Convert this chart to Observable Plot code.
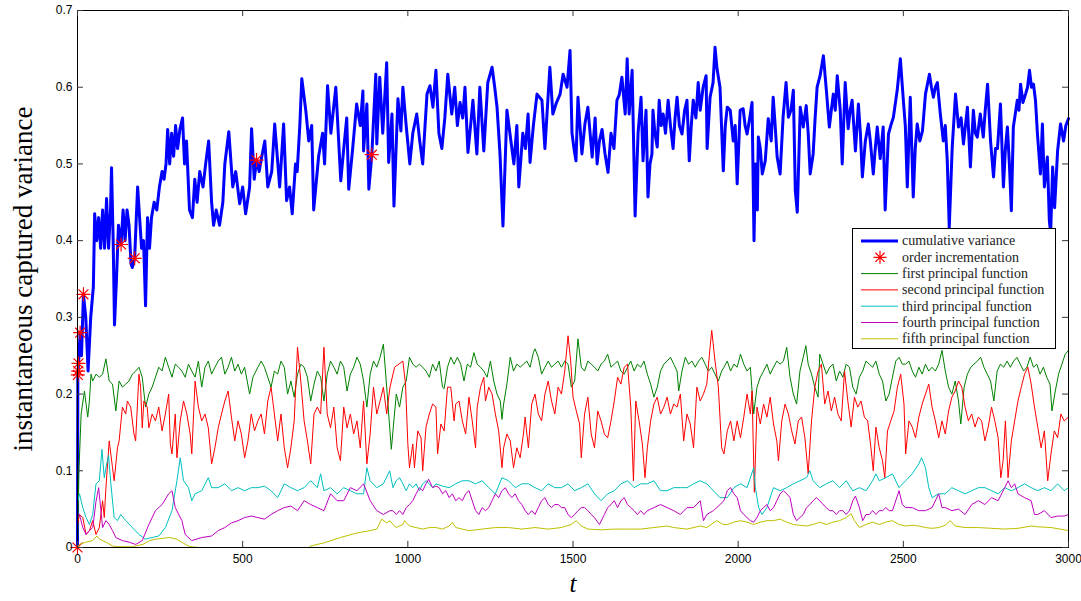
<!DOCTYPE html>
<html><head><meta charset="utf-8">
<script src="https://cdn.jsdelivr.net/npm/d3@7"></script>
<script src="https://cdn.jsdelivr.net/npm/@observablehq/plot@0.6"></script>
<style>
body{margin:0;background:#fff}
#wrap{position:relative;width:1081px;height:601px}
#legend{position:absolute;left:852px;top:228px;width:202px;height:119px;border:1px solid #000;background:#fff}
</style>
</head><body><div id="wrap"></div>
<script>
// ---- data: [t, value] ----
const cumulative = [[0,0],[1,0.225],[2,0.23],[3,0.24],[8,0.28],[12,0.25],[18,0.33],[25,0.30],[32,0.23],[40,0.30],[48,0.34],[52,0.435],[58,0.40],[64,0.43],[70,0.39],[76,0.44],[82,0.39],[88,0.455],[94,0.39],[100,0.44],[103,0.495],[108,0.40],[112,0.29],[118,0.35],[124,0.42],[132,0.395],[138,0.44],[144,0.40],[150,0.44],[156,0.42],[162,0.37],[166,0.365],[173,0.377],[178,0.43],[182,0.47],[188,0.43],[194,0.39],[200,0.40],[206,0.315],[212,0.43],[218,0.39],[224,0.43],[232,0.45],[240,0.44],[248,0.47],[256,0.49],[262,0.48],[268,0.50],[273,0.545],[279,0.50],[285,0.54],[291,0.51],[297,0.55],[303,0.52],[310,0.545],[318,0.56],[324,0.50],[330,0.53],[339,0.44],[348,0.43],[355,0.48],[362,0.45],[370,0.49],[380,0.47],[388,0.50],[397,0.53],[406,0.45],[412,0.42],[420,0.44],[430,0.42],[440,0.45],[446,0.50],[458,0.542],[470,0.47],[479,0.49],[491,0.448],[500,0.47],[509,0.435],[521,0.47],[527,0.546],[535,0.48],[542,0.505],[550,0.49],[558,0.51],[567,0.53],[576,0.47],[588,0.49],[597,0.552],[612,0.47],[624,0.552],[633,0.452],[642,0.47],[650,0.435],[660,0.50],[665,0.49],[673,0.55],[679,0.611],[691,0.57],[700,0.53],[709,0.55],[715,0.44],[730,0.51],[742,0.54],[748,0.50],[757,0.602],[767,0.54],[782,0.60],[797,0.478],[806,0.52],[815,0.56],[821,0.467],[833,0.52],[845,0.578],[856,0.55],[864,0.595],[866,0.517],[876,0.578],[882,0.467],[891,0.512],[903,0.617],[906,0.526],[915,0.613],[924,0.54],[936,0.632],[942,0.502],[952,0.565],[958,0.445],[970,0.585],[979,0.543],[985,0.60],[995,0.55],[1006,0.50],[1015,0.54],[1027,0.565],[1036,0.53],[1045,0.50],[1058,0.591],[1067,0.602],[1076,0.574],[1085,0.622],[1094,0.54],[1103,0.52],[1112,0.56],[1121,0.617],[1133,0.565],[1142,0.60],[1150,0.55],[1158,0.58],[1166,0.56],[1173,0.60],[1182,0.515],[1190,0.55],[1197,0.583],[1209,0.513],[1218,0.60],[1230,0.517],[1242,0.606],[1255,0.626],[1263,0.60],[1270,0.574],[1279,0.513],[1288,0.419],[1300,0.57],[1309,0.54],[1321,0.50],[1330,0.55],[1336,0.47],[1348,0.54],[1356,0.52],[1364,0.565],[1370,0.502],[1380,0.55],[1391,0.591],[1406,0.583],[1415,0.52],[1422,0.57],[1430,0.626],[1439,0.565],[1450,0.58],[1461,0.591],[1470,0.617],[1482,0.60],[1491,0.648],[1497,0.54],[1503,0.52],[1509,0.504],[1515,0.587],[1521,0.55],[1527,0.513],[1536,0.552],[1545,0.574],[1558,0.509],[1567,0.56],[1573,0.50],[1580,0.53],[1588,0.545],[1597,0.513],[1606,0.489],[1615,0.54],[1624,0.52],[1633,0.583],[1640,0.59],[1648,0.613],[1658,0.565],[1664,0.637],[1670,0.565],[1679,0.622],[1688,0.432],[1697,0.54],[1706,0.587],[1712,0.504],[1721,0.57],[1727,0.457],[1733,0.50],[1739,0.513],[1742,0.57],[1748,0.54],[1755,0.522],[1761,0.583],[1767,0.55],[1773,0.565],[1780,0.54],[1788,0.583],[1795,0.55],[1803,0.52],[1809,0.56],[1815,0.587],[1822,0.55],[1830,0.539],[1838,0.57],[1845,0.583],[1852,0.504],[1858,0.55],[1864,0.583],[1872,0.56],[1879,0.606],[1885,0.57],[1894,0.60],[1903,0.615],[1906,0.52],[1915,0.587],[1924,0.606],[1930,0.652],[1936,0.624],[1945,0.60],[1955,0.491],[1961,0.55],[1967,0.574],[1976,0.57],[1985,0.53],[1991,0.55],[1997,0.474],[2006,0.57],[2015,0.572],[2021,0.55],[2027,0.539],[2035,0.56],[2042,0.58],[2048,0.40],[2052,0.50],[2058,0.44],[2061,0.535],[2067,0.52],[2073,0.487],[2082,0.504],[2091,0.559],[2100,0.53],[2106,0.587],[2112,0.55],[2118,0.509],[2127,0.487],[2136,0.561],[2145,0.606],[2152,0.561],[2160,0.57],[2167,0.596],[2173,0.465],[2179,0.437],[2188,0.574],[2197,0.548],[2206,0.576],[2212,0.54],[2218,0.487],[2227,0.513],[2233,0.56],[2239,0.60],[2248,0.615],[2258,0.641],[2267,0.596],[2276,0.548],[2282,0.57],[2288,0.591],[2294,0.57],[2300,0.615],[2309,0.570],[2315,0.50],[2324,0.606],[2333,0.546],[2339,0.57],[2345,0.583],[2355,0.517],[2364,0.578],[2370,0.54],[2376,0.483],[2385,0.53],[2394,0.552],[2400,0.53],[2409,0.487],[2415,0.52],[2421,0.548],[2430,0.507],[2439,0.548],[2445,0.44],[2455,0.539],[2462,0.55],[2470,0.561],[2482,0.598],[2491,0.637],[2500,0.583],[2506,0.55],[2512,0.47],[2521,0.587],[2530,0.457],[2536,0.52],[2542,0.552],[2550,0.53],[2558,0.543],[2567,0.591],[2579,0.617],[2585,0.60],[2591,0.587],[2597,0.60],[2603,0.606],[2612,0.565],[2621,0.53],[2627,0.55],[2633,0.504],[2639,0.417],[2648,0.522],[2658,0.591],[2667,0.548],[2675,0.56],[2682,0.526],[2688,0.55],[2694,0.574],[2703,0.496],[2712,0.570],[2718,0.54],[2724,0.535],[2733,0.565],[2742,0.535],[2748,0.57],[2755,0.604],[2764,0.530],[2773,0.483],[2779,0.52],[2785,0.52],[2794,0.578],[2803,0.47],[2809,0.52],[2815,0.548],[2821,0.50],[2827,0.439],[2833,0.548],[2845,0.583],[2850,0.57],[2855,0.604],[2862,0.58],[2870,0.591],[2876,0.60],[2882,0.622],[2888,0.60],[2894,0.604],[2900,0.583],[2906,0.539],[2915,0.487],[2921,0.552],[2927,0.470],[2936,0.509],[2942,0.426],[2946,0.41],[2952,0.496],[2958,0.443],[2967,0.517],[2976,0.552],[2985,0.530],[2992,0.55],[3000,0.559]];

const orderIncrements = [[0,0],[1,0.225],[2,0.23],[3,0.24],[8,0.28],[18,0.33],[132,0.395],[173,0.377],[542,0.505],[891,0.512]];

const first = [[0,0],[4,0.096],[11,0.174],[21,0.204],[31,0.170],[36,0.191],[41,0.226],[46,0.217],[56,0.226],[66,0.222],[76,0.226],[86,0.246],[96,0.217],[106,0.213],[116,0.178],[126,0.217],[136,0.209],[146,0.213],[156,0.217],[166,0.226],[176,0.230],[186,0.235],[196,0.222],[206,0.183],[216,0.200],[226,0.209],[236,0.222],[246,0.235],[256,0.230],[266,0.248],[276,0.235],[286,0.222],[296,0.239],[306,0.235],[316,0.230],[326,0.222],[336,0.239],[346,0.230],[356,0.222],[366,0.243],[376,0.209],[386,0.235],[396,0.243],[406,0.226],[416,0.235],[426,0.243],[436,0.248],[446,0.226],[456,0.235],[466,0.248],[476,0.230],[486,0.239],[496,0.226],[506,0.235],[521,0.200],[531,0.222],[546,0.235],[556,0.243],[566,0.235],[576,0.222],[586,0.209],[596,0.230],[606,0.226],[616,0.243],[626,0.235],[636,0.200],[646,0.217],[656,0.196],[666,0.226],[676,0.239],[686,0.235],[696,0.222],[706,0.191],[716,0.213],[726,0.230],[736,0.222],[746,0.191],[756,0.226],[766,0.243],[776,0.235],[786,0.226],[796,0.243],[806,0.235],[816,0.204],[826,0.226],[836,0.235],[846,0.248],[856,0.239],[866,0.217],[876,0.183],[886,0.226],[896,0.243],[906,0.235],[916,0.248],[926,0.265],[936,0.209],[950,0.128],[965,0.200],[975,0.183],[985,0.209],[995,0.217],[1005,0.248],[1015,0.239],[1025,0.235],[1035,0.239],[1045,0.235],[1055,0.230],[1065,0.222],[1075,0.239],[1085,0.230],[1095,0.243],[1105,0.209],[1110,0.207],[1120,0.235],[1130,0.248],[1140,0.239],[1150,0.248],[1160,0.239],[1170,0.217],[1180,0.239],[1190,0.235],[1200,0.254],[1210,0.239],[1220,0.235],[1230,0.230],[1240,0.222],[1250,0.243],[1260,0.217],[1270,0.200],[1280,0.191],[1285,0.167],[1290,0.187],[1300,0.213],[1310,0.248],[1320,0.230],[1330,0.239],[1340,0.235],[1350,0.239],[1360,0.243],[1370,0.235],[1380,0.254],[1385,0.259],[1395,0.248],[1405,0.226],[1415,0.235],[1425,0.243],[1435,0.235],[1445,0.239],[1455,0.243],[1465,0.235],[1475,0.243],[1485,0.239],[1495,0.209],[1505,0.217],[1515,0.272],[1525,0.235],[1535,0.230],[1545,0.243],[1555,0.239],[1565,0.235],[1575,0.230],[1585,0.239],[1595,0.243],[1605,0.252],[1615,0.235],[1625,0.239],[1635,0.243],[1645,0.230],[1655,0.226],[1665,0.235],[1675,0.243],[1685,0.230],[1695,0.239],[1705,0.235],[1715,0.243],[1725,0.226],[1735,0.213],[1745,0.196],[1755,0.209],[1765,0.230],[1775,0.239],[1785,0.243],[1795,0.248],[1805,0.239],[1815,0.230],[1820,0.204],[1830,0.230],[1840,0.248],[1850,0.239],[1860,0.243],[1870,0.235],[1880,0.243],[1890,0.248],[1900,0.239],[1910,0.230],[1920,0.235],[1930,0.226],[1940,0.217],[1950,0.230],[1957,0.235],[1967,0.243],[1977,0.230],[1987,0.239],[1997,0.235],[2007,0.252],[2017,0.239],[2027,0.230],[2037,0.235],[2047,0.174],[2057,0.209],[2067,0.222],[2077,0.230],[2087,0.239],[2097,0.226],[2107,0.235],[2117,0.243],[2127,0.239],[2137,0.243],[2147,0.261],[2157,0.222],[2167,0.200],[2177,0.187],[2187,0.230],[2197,0.248],[2205,0.263],[2212,0.239],[2222,0.226],[2232,0.209],[2242,0.196],[2247,0.252],[2257,0.239],[2267,0.226],[2277,0.235],[2287,0.239],[2297,0.217],[2307,0.230],[2317,0.222],[2327,0.239],[2337,0.235],[2347,0.209],[2357,0.200],[2367,0.222],[2377,0.230],[2387,0.243],[2397,0.239],[2407,0.235],[2417,0.243],[2427,0.226],[2437,0.217],[2447,0.191],[2457,0.200],[2467,0.222],[2477,0.243],[2487,0.248],[2497,0.239],[2507,0.239],[2517,0.243],[2527,0.230],[2537,0.222],[2547,0.235],[2557,0.226],[2567,0.239],[2577,0.230],[2587,0.235],[2597,0.230],[2607,0.239],[2617,0.257],[2627,0.230],[2637,0.209],[2647,0.200],[2657,0.217],[2667,0.191],[2674,0.161],[2684,0.209],[2694,0.226],[2704,0.235],[2714,0.239],[2724,0.243],[2734,0.248],[2744,0.235],[2754,0.226],[2764,0.217],[2774,0.191],[2784,0.230],[2794,0.239],[2804,0.235],[2814,0.243],[2824,0.235],[2834,0.243],[2844,0.248],[2854,0.239],[2864,0.230],[2874,0.235],[2884,0.248],[2894,0.235],[2904,0.239],[2914,0.226],[2924,0.235],[2934,0.222],[2944,0.213],[2950,0.178],[2960,0.204],[2970,0.226],[2980,0.239],[2990,0.252],[3000,0.257]];

const second = [[0,0.03],[6,0.043],[16,0.039],[26,0.017],[36,0.022],[46,0.035],[56,0.017],[66,0.026],[76,0.061],[81,0.039],[86,0.078],[96,0.139],[106,0.104],[111,0.087],[121,0.130],[126,0.139],[136,0.183],[146,0.174],[151,0.191],[161,0.183],[171,0.148],[176,0.139],[186,0.226],[191,0.209],[196,0.156],[201,0.191],[211,0.183],[216,0.156],[226,0.174],[236,0.165],[246,0.183],[256,0.152],[266,0.174],[276,0.200],[281,0.135],[286,0.122],[296,0.174],[301,0.117],[311,0.165],[321,0.191],[331,0.174],[341,0.148],[346,0.122],[356,0.217],[366,0.183],[376,0.165],[386,0.174],[396,0.156],[406,0.109],[416,0.130],[426,0.156],[436,0.174],[446,0.191],[456,0.204],[466,0.170],[476,0.139],[486,0.165],[496,0.148],[506,0.117],[516,0.139],[526,0.174],[536,0.152],[546,0.165],[556,0.174],[566,0.148],[576,0.191],[586,0.209],[596,0.174],[606,0.139],[616,0.174],[626,0.130],[636,0.104],[646,0.130],[656,0.165],[666,0.261],[676,0.217],[686,0.165],[696,0.139],[706,0.109],[716,0.174],[726,0.183],[736,0.174],[746,0.261],[756,0.174],[766,0.156],[776,0.183],[786,0.130],[796,0.113],[806,0.183],[816,0.156],[826,0.174],[836,0.148],[846,0.165],[856,0.130],[866,0.191],[876,0.109],[886,0.148],[896,0.209],[906,0.174],[916,0.191],[926,0.209],[936,0.174],[946,0.209],[960,0.235],[985,0.243],[993,0.213],[1000,0.135],[1005,0.104],[1015,0.135],[1020,0.104],[1030,0.152],[1040,0.143],[1045,0.100],[1055,0.157],[1065,0.174],[1075,0.187],[1085,0.183],[1090,0.122],[1100,0.161],[1110,0.152],[1120,0.209],[1130,0.209],[1140,0.165],[1145,0.187],[1155,0.191],[1165,0.165],[1175,0.148],[1185,0.196],[1195,0.165],[1205,0.130],[1210,0.183],[1220,0.209],[1230,0.222],[1235,0.191],[1245,0.209],[1255,0.200],[1265,0.174],[1275,0.152],[1285,0.104],[1290,0.130],[1300,0.148],[1310,0.139],[1320,0.104],[1330,0.130],[1340,0.117],[1350,0.148],[1355,0.170],[1365,0.130],[1375,0.187],[1385,0.200],[1395,0.174],[1405,0.165],[1415,0.200],[1425,0.217],[1435,0.191],[1445,0.174],[1455,0.209],[1465,0.200],[1475,0.230],[1485,0.276],[1493,0.243],[1500,0.196],[1510,0.178],[1520,0.161],[1525,0.117],[1535,0.174],[1545,0.196],[1555,0.148],[1565,0.130],[1575,0.178],[1585,0.165],[1595,0.148],[1605,0.143],[1615,0.165],[1625,0.191],[1635,0.222],[1645,0.213],[1655,0.235],[1665,0.239],[1675,0.183],[1683,0.087],[1690,0.191],[1700,0.165],[1710,0.135],[1718,0.091],[1725,0.130],[1735,0.165],[1745,0.187],[1755,0.196],[1765,0.174],[1775,0.183],[1785,0.196],[1795,0.174],[1805,0.187],[1815,0.183],[1825,0.200],[1835,0.139],[1845,0.174],[1855,0.161],[1865,0.130],[1875,0.209],[1885,0.191],[1895,0.200],[1905,0.213],[1915,0.261],[1920,0.283],[1930,0.243],[1940,0.209],[1950,0.130],[1957,0.122],[1967,0.152],[1977,0.165],[1987,0.139],[1997,0.165],[2007,0.143],[2017,0.170],[2027,0.200],[2037,0.174],[2042,0.204],[2049,0.072],[2057,0.183],[2067,0.161],[2077,0.187],[2087,0.170],[2097,0.196],[2107,0.161],[2117,0.139],[2122,0.113],[2132,0.165],[2142,0.187],[2152,0.174],[2162,0.152],[2172,0.135],[2182,0.165],[2192,0.170],[2202,0.143],[2212,0.096],[2222,0.165],[2232,0.209],[2242,0.230],[2252,0.239],[2262,0.187],[2272,0.204],[2282,0.178],[2292,0.196],[2302,0.174],[2312,0.165],[2322,0.230],[2332,0.191],[2342,0.157],[2352,0.196],[2362,0.183],[2372,0.191],[2382,0.170],[2392,0.165],[2402,0.130],[2409,0.100],[2417,0.157],[2427,0.130],[2437,0.113],[2444,0.091],[2452,0.152],[2462,0.165],[2472,0.178],[2482,0.209],[2492,0.226],[2502,0.187],[2507,0.122],[2517,0.165],[2527,0.157],[2537,0.143],[2547,0.170],[2557,0.187],[2567,0.200],[2577,0.213],[2587,0.183],[2597,0.165],[2607,0.143],[2617,0.165],[2627,0.148],[2637,0.178],[2647,0.196],[2657,0.204],[2667,0.217],[2677,0.209],[2687,0.183],[2697,0.165],[2707,0.174],[2717,0.157],[2727,0.170],[2737,0.165],[2747,0.139],[2757,0.157],[2767,0.183],[2777,0.165],[2787,0.143],[2795,0.091],[2802,0.113],[2809,0.165],[2817,0.091],[2827,0.139],[2837,0.165],[2847,0.191],[2857,0.209],[2867,0.226],[2877,0.235],[2887,0.213],[2897,0.183],[2907,0.157],[2917,0.130],[2927,0.152],[2937,0.087],[2947,0.122],[2957,0.152],[2967,0.143],[2977,0.174],[2987,0.165],[3000,0.170]];

const third = [[0,0.074],[1,0.061],[6,0.070],[16,0.052],[26,0.039],[36,0.030],[46,0.043],[56,0.083],[66,0.087],[74,0.128],[81,0.091],[86,0.104],[94,0.120],[101,0.083],[111,0.039],[121,0.035],[131,0.043],[146,0.035],[166,0.026],[186,0.017],[206,0.011],[226,0.013],[246,0.015],[266,0.026],[286,0.048],[301,0.087],[311,0.117],[321,0.087],[336,0.078],[346,0.061],[356,0.070],[376,0.074],[396,0.091],[406,0.078],[426,0.078],[446,0.083],[466,0.074],[486,0.078],[506,0.074],[526,0.078],[546,0.078],[566,0.080],[586,0.074],[606,0.065],[626,0.083],[646,0.078],[666,0.074],[686,0.078],[706,0.087],[726,0.078],[736,0.096],[746,0.074],[766,0.078],[786,0.070],[806,0.078],[826,0.074],[846,0.070],[866,0.070],[876,0.104],[886,0.087],[906,0.078],[926,0.083],[945,0.100],[955,0.078],[965,0.087],[975,0.091],[985,0.083],[995,0.074],[1005,0.083],[1015,0.078],[1025,0.083],[1035,0.074],[1045,0.083],[1055,0.087],[1065,0.083],[1075,0.078],[1085,0.083],[1105,0.080],[1125,0.078],[1145,0.083],[1165,0.087],[1185,0.087],[1205,0.083],[1225,0.087],[1245,0.078],[1265,0.070],[1285,0.091],[1305,0.087],[1325,0.078],[1345,0.083],[1365,0.083],[1385,0.078],[1405,0.074],[1425,0.083],[1445,0.078],[1465,0.078],[1485,0.083],[1505,0.074],[1525,0.078],[1545,0.083],[1565,0.070],[1585,0.061],[1605,0.070],[1625,0.074],[1645,0.083],[1665,0.087],[1685,0.078],[1705,0.083],[1725,0.083],[1745,0.087],[1765,0.074],[1785,0.074],[1805,0.078],[1825,0.078],[1845,0.078],[1865,0.083],[1885,0.087],[1905,0.083],[1925,0.074],[1945,0.065],[1967,0.065],[1987,0.078],[2007,0.083],[2027,0.078],[2047,0.104],[2052,0.078],[2062,0.052],[2072,0.043],[2087,0.052],[2107,0.078],[2127,0.074],[2147,0.078],[2167,0.083],[2187,0.087],[2207,0.091],[2217,0.100],[2227,0.087],[2247,0.078],[2267,0.083],[2287,0.087],[2307,0.078],[2327,0.087],[2347,0.074],[2367,0.078],[2387,0.074],[2407,0.087],[2417,0.096],[2427,0.087],[2447,0.091],[2467,0.096],[2487,0.078],[2507,0.087],[2527,0.096],[2547,0.109],[2555,0.117],[2567,0.104],[2577,0.078],[2587,0.065],[2607,0.070],[2627,0.070],[2647,0.078],[2667,0.074],[2687,0.070],[2707,0.074],[2727,0.078],[2747,0.078],[2767,0.074],[2787,0.070],[2807,0.078],[2827,0.074],[2847,0.078],[2867,0.083],[2887,0.078],[2907,0.074],[2927,0.078],[2947,0.074],[2967,0.083],[2987,0.074],[3000,0.078]];

const fourth = [[0,0.044],[6,0.043],[16,0.026],[26,0.017],[36,0.022],[46,0.026],[56,0.060],[64,0.078],[76,0.026],[86,0.035],[96,0.030],[106,0.022],[116,0.013],[136,0.009],[156,0.007],[176,0.004],[196,0.009],[216,0.030],[236,0.048],[256,0.056],[276,0.070],[286,0.074],[296,0.052],[316,0.035],[326,0.017],[346,0.009],[376,0.013],[406,0.015],[426,0.022],[446,0.026],[466,0.032],[486,0.035],[506,0.039],[526,0.041],[546,0.039],[566,0.037],[586,0.043],[606,0.048],[626,0.052],[646,0.054],[666,0.048],[686,0.061],[706,0.056],[726,0.052],[746,0.048],[766,0.070],[786,0.061],[806,0.061],[826,0.078],[846,0.074],[866,0.083],[886,0.061],[906,0.048],[926,0.043],[946,0.048],[955,0.048],[965,0.043],[975,0.048],[985,0.043],[995,0.052],[1005,0.056],[1015,0.061],[1025,0.070],[1035,0.078],[1045,0.074],[1055,0.083],[1063,0.089],[1075,0.078],[1085,0.080],[1095,0.078],[1105,0.070],[1115,0.074],[1125,0.065],[1135,0.070],[1145,0.061],[1155,0.065],[1165,0.061],[1175,0.070],[1185,0.074],[1195,0.061],[1205,0.048],[1215,0.043],[1225,0.052],[1235,0.048],[1245,0.052],[1255,0.061],[1265,0.070],[1275,0.065],[1285,0.074],[1295,0.078],[1305,0.070],[1315,0.065],[1325,0.070],[1335,0.061],[1345,0.056],[1355,0.048],[1365,0.043],[1375,0.048],[1385,0.043],[1395,0.052],[1405,0.061],[1415,0.065],[1425,0.056],[1435,0.052],[1445,0.056],[1455,0.056],[1465,0.052],[1475,0.052],[1485,0.043],[1495,0.039],[1505,0.043],[1515,0.048],[1525,0.052],[1535,0.052],[1545,0.048],[1555,0.043],[1565,0.039],[1580,0.030],[1595,0.043],[1605,0.052],[1615,0.056],[1625,0.061],[1635,0.052],[1645,0.061],[1655,0.065],[1665,0.056],[1675,0.052],[1685,0.048],[1695,0.043],[1705,0.048],[1715,0.043],[1725,0.048],[1745,0.052],[1765,0.056],[1785,0.052],[1805,0.048],[1825,0.043],[1845,0.052],[1865,0.052],[1885,0.061],[1895,0.035],[1905,0.043],[1925,0.048],[1945,0.056],[1957,0.061],[1967,0.074],[1977,0.078],[1987,0.070],[1997,0.065],[2007,0.048],[2017,0.043],[2027,0.039],[2037,0.035],[2047,0.033],[2057,0.039],[2067,0.048],[2077,0.052],[2087,0.056],[2097,0.048],[2107,0.052],[2117,0.061],[2127,0.070],[2137,0.074],[2147,0.070],[2157,0.065],[2167,0.043],[2177,0.035],[2187,0.039],[2197,0.043],[2207,0.052],[2217,0.056],[2227,0.061],[2237,0.065],[2247,0.061],[2257,0.056],[2267,0.052],[2277,0.048],[2287,0.048],[2297,0.043],[2307,0.048],[2317,0.048],[2327,0.043],[2337,0.048],[2347,0.061],[2355,0.067],[2367,0.052],[2377,0.035],[2387,0.043],[2397,0.043],[2407,0.048],[2417,0.043],[2427,0.048],[2437,0.048],[2447,0.052],[2457,0.048],[2467,0.048],[2477,0.061],[2487,0.074],[2497,0.056],[2507,0.052],[2527,0.052],[2547,0.048],[2567,0.048],[2587,0.052],[2607,0.070],[2617,0.052],[2627,0.052],[2647,0.048],[2667,0.050],[2687,0.043],[2707,0.056],[2727,0.061],[2747,0.056],[2767,0.065],[2787,0.061],[2807,0.078],[2817,0.087],[2827,0.078],[2837,0.083],[2847,0.070],[2867,0.065],[2887,0.061],[2897,0.043],[2907,0.043],[2927,0.048],[2947,0.039],[2967,0.041],[2987,0.041],[3000,0.043]];

const fifth = [[0,0],[6,0.004],[26,0.007],[46,0.009],[59,0.015],[66,0.011],[86,0.007],[106,0.002],[126,0.001],[166,0.001],[198,0.004],[218,0.009],[238,0.011],[258,0.012],[279,0.013],[299,0.011],[319,0.006],[340,0.001],[370,0],[700,0],[706,0.002],[746,0.006],[796,0.013],[846,0.019],[886,0.022],[906,0.024],[921,0.037],[936,0.032],[946,0.035],[955,0.030],[965,0.026],[985,0.030],[990,0.035],[1005,0.028],[1025,0.026],[1045,0.024],[1065,0.026],[1085,0.026],[1105,0.024],[1125,0.028],[1135,0.033],[1145,0.026],[1185,0.022],[1225,0.024],[1265,0.026],[1305,0.026],[1345,0.024],[1385,0.026],[1425,0.024],[1465,0.026],[1495,0.030],[1510,0.035],[1525,0.028],[1545,0.024],[1585,0.023],[1625,0.024],[1665,0.024],[1705,0.024],[1745,0.026],[1785,0.028],[1805,0.026],[1845,0.024],[1885,0.028],[1905,0.026],[1935,0.035],[1955,0.030],[1967,0.030],[1987,0.033],[2007,0.035],[2027,0.033],[2047,0.030],[2067,0.033],[2087,0.035],[2107,0.035],[2127,0.037],[2147,0.033],[2167,0.030],[2187,0.029],[2207,0.028],[2227,0.030],[2247,0.033],[2267,0.030],[2287,0.033],[2307,0.035],[2327,0.039],[2342,0.044],[2352,0.035],[2367,0.026],[2387,0.030],[2407,0.033],[2427,0.030],[2447,0.033],[2467,0.035],[2487,0.030],[2507,0.028],[2527,0.029],[2547,0.028],[2567,0.026],[2587,0.025],[2607,0.026],[2627,0.029],[2642,0.035],[2657,0.028],[2687,0.026],[2727,0.026],[2767,0.025],[2807,0.024],[2847,0.025],[2887,0.028],[2907,0.027],[2947,0.026],[2987,0.023],[3000,0.022]];

const xTicks = [0, 500, 1000, 1500, 2000, 2500, 3000];
const yTicks = [0, 0.1, 0.2, 0.3, 0.4, 0.5, 0.6, 0.7];
const legendLabels = ["cumulative variance", "order incrementation", "first principal function", "second principal function", "third principal function", "fourth principal function", "fifth principal function"];
const seriesColors = ["#0000ff", "#ff0000", "#008000", "#ff0000", "#00bfbf", "#bf00bf", "#bfbf00"];

// 8-spoke MATLAB-like asterisk
const asterisk = {
  draw(ctx, size) {
    const r = Math.sqrt(size / Math.PI), d = r * Math.SQRT1_2;
    ctx.moveTo(-r, 0); ctx.lineTo(r, 0);
    ctx.moveTo(0, -r); ctx.lineTo(0, r);
    ctx.moveTo(-d, -d); ctx.lineTo(d, d);
    ctx.moveTo(-d, d); ctx.lineTo(d, -d);
  }
};

const toRows = a => a.map(([t, v]) => ({t, v}));
const thin = [first, second, third, fourth, fifth];

const chart = Plot.plot({
  width: 1081, height: 601,
  marginLeft: 77, marginRight: 13, marginTop: 10, marginBottom: 54,
  x: {domain: [0, 3000], label: null},
  y: {domain: [0, 0.7], label: null},
  style: {fontFamily: "'Liberation Sans', Arial, sans-serif", fontSize: "12px", color: "#000", background: "#fff", overflow: "visible"},
  marks: [
    Plot.line(toRows(cumulative), {x: "t", y: "v", stroke: seriesColors[0], strokeWidth: 3, strokeLinejoin: "round"}),
    Plot.dot(toRows(orderIncrements), {x: "t", y: "v", symbol: asterisk, r: 7, stroke: seriesColors[1], strokeWidth: 1.2, fill: "none"}),
    ...thin.map((s, i) => Plot.line(toRows(s), {x: "t", y: "v", stroke: seriesColors[i + 2], strokeWidth: 1})),
    Plot.frame({stroke: "#000", strokeWidth: 1}),
    Plot.ruleX(xTicks, {x: d => d, y1: 0, y2: 0.008, stroke: "#333"}),
    Plot.ruleX(xTicks, {x: d => d, y1: 0.692, y2: 0.7, stroke: "#333"}),
    Plot.ruleY(yTicks, {y: d => d, x1: 0, x2: 18, stroke: "#333"}),
    Plot.ruleY(yTicks, {y: d => d, x1: 2982, x2: 3000, stroke: "#333"}),
    Plot.axisX({ticks: xTicks, tickSize: 0, tickPadding: 7, tickFormat: d => String(d), fontSize: 12}),
    Plot.axisY({ticks: yTicks, tickSize: 0, tickPadding: 5, tickFormat: d => d === 0 ? "0" : d.toFixed(1), fontSize: 12}),
    Plot.text(["instantaneous captured variance"], {frameAnchor: "left", textAnchor: "middle", rotate: -90, dx: -54, fontFamily: "'Liberation Serif', serif", fontSize: 27}),
    Plot.text(["t"], {frameAnchor: "bottom", textAnchor: "middle", dy: 44, fontFamily: "'Liberation Serif', serif", fontStyle: "italic", fontSize: 25})
  ]
});
const wrap = document.getElementById("wrap");
wrap.appendChild(chart);

// legend
const leg = d3.select(wrap).append("div").attr("id", "legend")
  .append("svg").attr("width", 202).attr("height", 119)
  .style("font-family", "'Liberation Serif', serif").style("font-size", "14px");
legendLabels.forEach((lab, i) => {
  const y = 12 + i * 16.3;
  const g = leg.append("g").attr("transform", `translate(0,${y})`);
  if (i === 1) {
    const r = 6.5, d = r * Math.SQRT1_2, cx = 27;
    g.append("path").attr("d", `M${cx - r},0L${cx + r},0M${cx},${-r}L${cx},${r}M${cx - d},${-d}L${cx + d},${d}M${cx - d},${d}L${cx + d},${-d}`)
      .attr("stroke", seriesColors[1]).attr("stroke-width", 1.2).attr("fill", "none");
  } else {
    g.append("line").attr("x1", 8).attr("x2", 45).attr("y1", 0).attr("y2", 0)
      .attr("stroke", seriesColors[i]).attr("stroke-width", i === 0 ? 3 : 1);
  }
  g.append("text").attr("x", 49).attr("y", 0).attr("dy", "0.32em").attr("fill", "#222").text(lab);
});
</script>
</body></html>
